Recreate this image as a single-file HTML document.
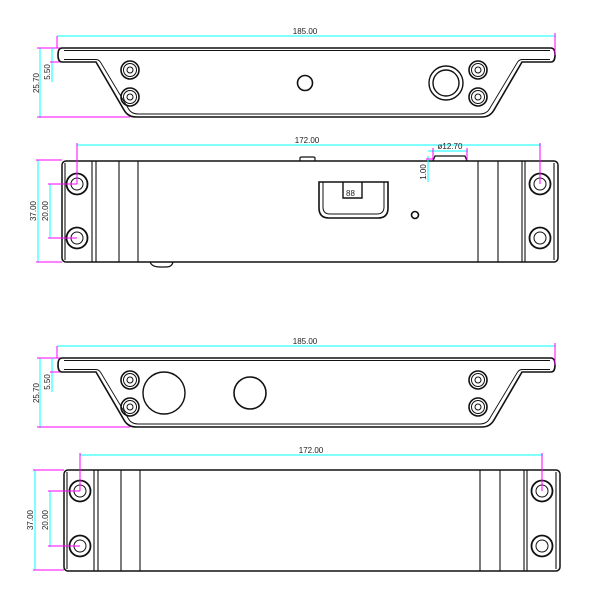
<!DOCTYPE html>
<html><head><meta charset="utf-8"><style>body{margin:0;background:#fff}svg{display:block}text{font-family:"Liberation Sans",sans-serif;font-size:8px;fill:#222}</style></head><body>
<svg width="600" height="600" viewBox="0 0 600 600" xmlns="http://www.w3.org/2000/svg">
<defs>
<g id="flange" fill="none" stroke="#111">
<path d="M62,48 H551 Q555,48 555,55 Q555,62 551,62 H522 L494,110 Q490,117 482,117 H136 Q128,117 124,110 L96,62 H62 Q58,62 58,55 Q58,48 62,48 Z" stroke-width="1.6"/>
<path d="M64,50.5 H550 M64,59.5 H96 Q99,59.5 101,63 L128,108 Q131,114 138,114 H480 Q487,114 490,108 L517,63 Q519,59.5 522,59.5 H550" stroke-width="0.9"/>
</g>
<g id="screw" fill="none" stroke="#111"><circle r="9" stroke-width="1.6"/><circle r="6.5" stroke-width="1"/><circle r="3" stroke-width="1"/></g>
<g id="box" fill="none" stroke="#111">
<rect x="0" y="0" width="496" height="101" rx="4" stroke-width="1.5"/>
<path d="M3,2 V99 M30,0 V101 M34,0 V101 M57,0 V101 M76,0 V101 M416,0 V101 M436,0 V101 M460,0 V101 M463,0 V101 M492,2 V99" stroke-width="1.1"/>
</g>
<g id="hole" fill="none" stroke="#111"><circle r="10.5" stroke-width="1.8"/><circle r="6" stroke-width="1"/></g>
</defs>

<!-- View 1 -->
<use href="#flange"/>
<use href="#screw" x="130" y="70"/><use href="#screw" x="130" y="97"/>
<use href="#screw" x="478" y="70"/><use href="#screw" x="478" y="97"/>
<circle cx="446" cy="83" r="17" fill="none" stroke="#111" stroke-width="1.4"/>
<circle cx="446" cy="83" r="13" fill="none" stroke="#111" stroke-width="1.4"/>
<circle cx="305" cy="83" r="7.5" fill="none" stroke="#111" stroke-width="1.6"/>
<g stroke-width="1">
<line x1="57" y1="36" x2="556" y2="36" stroke="#0ff"/>
<line x1="57" y1="36" x2="57" y2="48" stroke="#f0f"/><line x1="555" y1="33" x2="555" y2="55" stroke="#f0f"/>
<line x1="40" y1="48" x2="40" y2="118" stroke="#0ff"/>
<line x1="37" y1="48" x2="60" y2="48" stroke="#f0f"/><line x1="37" y1="117" x2="130" y2="117" stroke="#f0f"/>
<line x1="52" y1="48" x2="52" y2="82" stroke="#0ff"/>
<line x1="50" y1="62" x2="60" y2="62" stroke="#f0f"/>
</g>
<text x="305" y="34" text-anchor="middle">185.00</text>
<text transform="translate(39,83) rotate(-90)" text-anchor="middle">25.70</text>
<text transform="translate(50,72) rotate(-90)" text-anchor="middle">5.50</text>

<!-- View 2 -->
<path d="M300,161 V158 Q300,157 302,157 H313 Q315,157 315,158 V161 M433,161 L435,156 H465 L467,161 M150,262 Q152,267 160,267 H166 Q172,267 173,262" fill="none" stroke="#111" stroke-width="1.2"/>
<use href="#box" x="62" y="161"/>
<use href="#hole" x="77" y="184"/><use href="#hole" x="77" y="238"/>
<use href="#hole" x="540" y="184"/><use href="#hole" x="540" y="238"/>
<path d="M319,182 H388 V208 Q388,218 378,218 H329 Q319,218 319,208 Z" fill="none" stroke="#111" stroke-width="1.6"/>
<path d="M323,182 V207 Q323,214 330,214 H377 Q384,214 384,207 V182" fill="none" stroke="#111" stroke-width="1"/>
<path d="M343,182 V198 H362 V182" fill="none" stroke="#111" stroke-width="1.4"/>
<text x="346" y="196" font-size="6px">88</text>
<circle cx="415" cy="215" r="3.5" fill="none" stroke="#111" stroke-width="1.6"/>
<g stroke-width="1">
<line x1="77" y1="145" x2="541" y2="145" stroke="#0ff"/>
<line x1="77" y1="143" x2="77" y2="184" stroke="#f0f"/><line x1="540" y1="143" x2="540" y2="184" stroke="#f0f"/>
<line x1="38" y1="160" x2="38" y2="262" stroke="#0ff"/>
<line x1="36" y1="160" x2="62" y2="160" stroke="#f0f"/><line x1="36" y1="262" x2="62" y2="262" stroke="#f0f"/>
<line x1="50" y1="184" x2="50" y2="238" stroke="#0ff"/>
<line x1="48" y1="184" x2="77" y2="184" stroke="#f0f"/><line x1="48" y1="238" x2="77" y2="238" stroke="#f0f"/>
<line x1="428" y1="151" x2="468" y2="151" stroke="#0ff"/>
<line x1="433" y1="148" x2="433" y2="160" stroke="#f0f"/><line x1="467" y1="148" x2="467" y2="160" stroke="#f0f"/>
<line x1="428" y1="156" x2="428" y2="182" stroke="#0ff"/>
<line x1="426" y1="159" x2="433" y2="159" stroke="#f0f"/>
</g>
<text x="307" y="143" text-anchor="middle">172.00</text>
<text x="450" y="149" text-anchor="middle">ø12.70</text>
<text transform="translate(36,211) rotate(-90)" text-anchor="middle">37.00</text>
<text transform="translate(48,211) rotate(-90)" text-anchor="middle">20.00</text>
<text transform="translate(426,172) rotate(-90)" text-anchor="middle" font-size="7px">1.00</text>

<!-- View 3 -->
<use href="#flange" y="310"/>
<use href="#screw" x="130" y="380"/><use href="#screw" x="130" y="407"/>
<use href="#screw" x="478" y="380"/><use href="#screw" x="478" y="407"/>
<circle cx="164" cy="393" r="21" fill="none" stroke="#111" stroke-width="1.4"/>
<circle cx="250" cy="393" r="16" fill="none" stroke="#111" stroke-width="1.6"/>
<g stroke-width="1">
<line x1="57" y1="346" x2="556" y2="346" stroke="#0ff"/>
<line x1="57" y1="346" x2="57" y2="358" stroke="#f0f"/><line x1="555" y1="343" x2="555" y2="365" stroke="#f0f"/>
<line x1="40" y1="358" x2="40" y2="428" stroke="#0ff"/>
<line x1="37" y1="358" x2="60" y2="358" stroke="#f0f"/><line x1="37" y1="427" x2="130" y2="427" stroke="#f0f"/>
<line x1="52" y1="358" x2="52" y2="392" stroke="#0ff"/>
<line x1="50" y1="372" x2="60" y2="372" stroke="#f0f"/>
</g>
<text x="305" y="344" text-anchor="middle">185.00</text>
<text transform="translate(39,393) rotate(-90)" text-anchor="middle">25.70</text>
<text transform="translate(50,382) rotate(-90)" text-anchor="middle">5.50</text>

<!-- View 4 -->
<use href="#box" x="64" y="470"/>
<use href="#hole" x="80" y="491"/><use href="#hole" x="80" y="546"/>
<use href="#hole" x="542" y="491"/><use href="#hole" x="542" y="546"/>
<g stroke-width="1">
<line x1="80" y1="455" x2="543" y2="455" stroke="#0ff"/>
<line x1="80" y1="453" x2="80" y2="491" stroke="#f0f"/><line x1="542" y1="453" x2="542" y2="491" stroke="#f0f"/>
<line x1="35" y1="470" x2="35" y2="570" stroke="#0ff"/>
<line x1="33" y1="470" x2="64" y2="470" stroke="#f0f"/><line x1="33" y1="570" x2="64" y2="570" stroke="#f0f"/>
<line x1="50" y1="491" x2="50" y2="547" stroke="#0ff"/>
<line x1="48" y1="491" x2="80" y2="491" stroke="#f0f"/><line x1="48" y1="546" x2="80" y2="546" stroke="#f0f"/>
</g>
<text x="311" y="453" text-anchor="middle">172.00</text>
<text transform="translate(33,520) rotate(-90)" text-anchor="middle">37.00</text>
<text transform="translate(48,520) rotate(-90)" text-anchor="middle">20.00</text>
</svg>
</body></html>
